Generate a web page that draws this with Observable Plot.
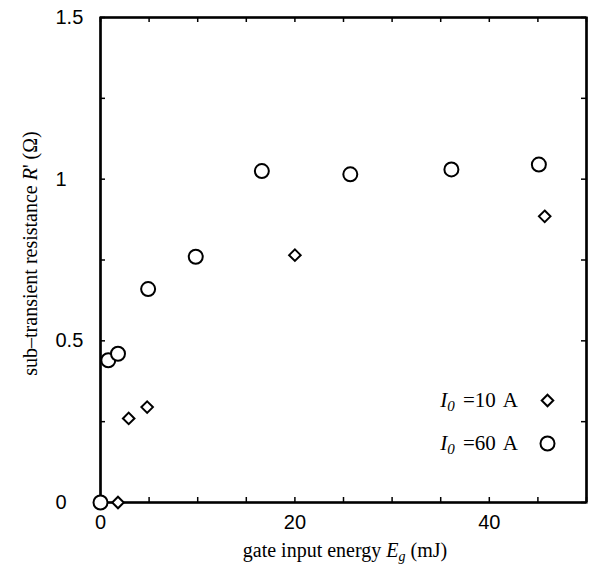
<!DOCTYPE html>
<html>
<head>
<meta charset="utf-8">
<script src="https://cdn.jsdelivr.net/npm/d3@7"></script>
<script src="https://cdn.jsdelivr.net/npm/@observablehq/plot@0.6"></script>
<style>
  body { margin: 0; background: #fff; overflow: hidden; }
  #chart svg { display: block; }
</style>
</head>
<body>
<div id="chart"></div>
<script>
// Sub-transient resistance R' versus gate input energy Eg, for two anode currents.
const energy10 = [1.8, 2.9, 4.8, 20.0, 45.7];
const resist10 = [0, 0.26, 0.295, 0.765, 0.885];
const energy60 = [0, 0.8, 1.8, 4.9, 9.8, 16.6, 25.7, 36.1, 45.1];
const resist60 = [0, 0.44, 0.46, 0.66, 0.76, 1.025, 1.015, 1.03, 1.045];

const xDomain = [0, 50];
const yDomain = [0, 1.5];
const xTicks = [0, 5, 10, 15, 20, 25, 30, 35, 40, 45, 50];
const xTickLabels = [0, 20, 40];
const yTicks = [0, 0.25, 0.5, 0.75, 1, 1.25, 1.5];
const yTickLabels = [0, 0.5, 1, 1.5];

const seriesNames = ["10 A", "60 A"];
const seriesSymbols = ["diamond2", "circle"];

const W = 597, H = 576;
const mL = 100, mR = 11, mT = 17, mB = 74;
const innerH = H - mT - mB, innerW = W - mL - mR;
const tick = 5;

const pts10 = energy10.map((e, i) => ({e, r: resist10[i]}));
const pts60 = energy60.map((e, i) => ({e, r: resist60[i]}));

const chart = Plot.plot({
  width: W,
  height: H,
  marginLeft: mL,
  marginRight: mR,
  marginTop: mT,
  marginBottom: mB,
  style: {background: "#fff", color: "#000", fontFamily: "'Liberation Sans', Arial, sans-serif"},
  x: {domain: xDomain},
  y: {domain: yDomain},
  marks: [
    // box around the plotting area
    Plot.frame({stroke: "#000", strokeWidth: 2.2}),
    Plot.ruleX(xDomain, {x: d => d, stroke: "#000", strokeWidth: 2.2}),
    Plot.ruleY(yDomain, {y: d => d, stroke: "#000", strokeWidth: 2.2}),
    // inward ticks on all four sides
    Plot.ruleX(xTicks, {x: d => d, insetTop: innerH - tick, stroke: "#000", strokeWidth: 1.5}),
    Plot.ruleX(xTicks, {x: d => d, insetBottom: innerH - tick, stroke: "#000", strokeWidth: 1.5}),
    Plot.ruleY(yTicks, {y: d => d, insetRight: innerW - tick, stroke: "#000", strokeWidth: 1.5}),
    Plot.ruleY(yTicks, {y: d => d, insetLeft: innerW - tick, stroke: "#000", strokeWidth: 1.5}),
    Plot.axisX({ticks: xTickLabels, tickSize: 0, tickPadding: 12, fontSize: 20, label: null, tickFormat: d => String(d)}),
    Plot.axisY({ticks: yTickLabels, tickSize: 0, tickPadding: 8, fontSize: 20, label: null, tickFormat: d => String(d), textAnchor: "start", dx: -37}),
    Plot.dot(pts10, {x: "e", y: "r", symbol: seriesSymbols[0], r: 5.2, stroke: "#000", strokeWidth: 2, fill: "#fff"}),
    Plot.dot(pts60, {x: "e", y: "r", symbol: seriesSymbols[1], r: 7, stroke: "#000", strokeWidth: 2, fill: "#fff"}),
    // legend symbols
    Plot.dot([seriesNames[0]], {frameAnchor: "bottom-right", dx: -39, dy: -102, symbol: seriesSymbols[0], r: 5.2, stroke: "#000", strokeWidth: 2, fill: "#fff"}),
    Plot.dot([seriesNames[1]], {frameAnchor: "bottom-right", dx: -39, dy: -59, symbol: seriesSymbols[1], r: 7, stroke: "#000", strokeWidth: 2, fill: "#fff"})
  ]
});

document.getElementById("chart").appendChild(chart);

// Titles and legend labels with italic symbols and subscripts
const svg = d3.select(chart);
const serif = "'Liberation Serif', 'Times New Roman', serif";

const xl = svg.append("text")
  .attr("x", mL + innerW / 2 + 2).attr("y", 557)
  .attr("text-anchor", "middle").attr("font-family", serif).attr("font-size", 20).attr("fill", "#000");
xl.append("tspan").text("gate input energy ");
xl.append("tspan").attr("font-style", "italic").text("E");
xl.append("tspan").attr("font-style", "italic").attr("font-size", 14).attr("dy", 4).text("g");
xl.append("tspan").attr("dy", -4).text(" (mJ)");

const yl = svg.append("text")
  .attr("transform", `translate(37,${mT + innerH / 2 - 6}) rotate(-90)`)
  .attr("text-anchor", "middle").attr("font-family", serif).attr("font-size", 20).attr("fill", "#000");
yl.append("tspan").text("sub\u2013transient resistance ");
yl.append("tspan").attr("font-style", "italic").text("R");
yl.append("tspan").text("' (\u03A9)");

const legendRows = [
  {name: seriesNames[0], y: H - mB - 102},
  {name: seriesNames[1], y: H - mB - 59}
];
legendRows.forEach(row => {
  const t = svg.append("text")
    .attr("x", W - mR - 68).attr("y", row.y).attr("dy", "0.35em")
    .attr("text-anchor", "end").attr("font-family", serif).attr("font-size", 21)
    .attr("word-spacing", 3).attr("fill", "#000");
  t.append("tspan").attr("font-style", "italic").text("I");
  t.append("tspan").attr("font-style", "italic").attr("font-size", 15).attr("dy", 4).text("0");
  t.append("tspan").attr("dy", -4).text(" =" + row.name);
});
</script>
</body>
</html>
